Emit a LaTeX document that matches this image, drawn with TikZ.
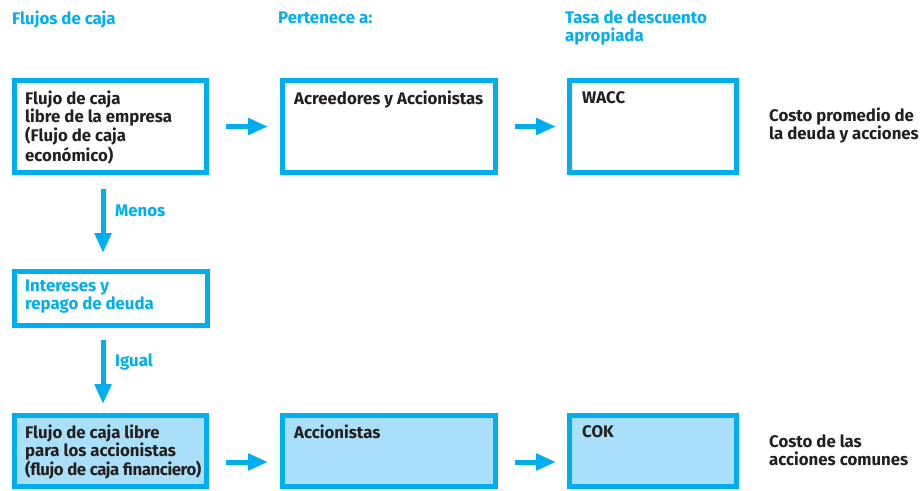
\documentclass[tikz,border=0pt]{standalone}
\usepackage{fontspec}
\setmainfont{Fira Sans}
\usetikzlibrary{arrows.meta}
\definecolor{cyanline}{HTML}{00AEEF}
\definecolor{lightfill}{HTML}{A9DFF8}
\definecolor{ink}{HTML}{231F20}
% text nodes are placed by their top-left corner; a fixed strut makes the
% first baseline sit exactly 12pt below that corner
\newcommand{\firstline}{\rule{0pt}{12pt}}
\newcommand{\tightline}[1]{{\addfontfeature{LetterSpace=-2.5}#1}}
\tikzset{
  box/.style={draw=cyanline, line width=5pt, rectangle, inner sep=0pt, anchor=north west},
  filledbox/.style={box, fill=lightfill},
  boxtext/.style={anchor=north west, inner sep=0pt, align=left, text=ink,
    font=\bfseries\fontsize{16.8}{18}\selectfont},
  head/.style={boxtext, text=cyanline},
  flow/.style={draw=cyanline, line width=5pt, -{Triangle[length=20pt,width=16pt]}},
}
\begin{document}
\begin{tikzpicture}[x=1pt,y=-1pt]
\useasboundingbox (0,0) rectangle (920,490);

% column headers (first baseline at y = given + 12)
\node[head] (h1) at (12,11) {\firstline Flujos de caja};
\node[head] (h2) at (278,11) {\firstline Pertenece a:};
\node[head] (h3) at (565,11) {\firstline Tasa de descuento\\apropiada};

% top row (boxes placed by their outer top-left corner)
\node[box, minimum width=192pt, minimum height=92pt] (b1) at (12,78) {};
\node[box, minimum width=213pt, minimum height=92pt] (b2) at (280,78) {};
\node[box, minimum width=167pt, minimum height=92pt] (b3) at (567,78) {};
\node[boxtext] (t1) at (25,91) {\firstline Flujo de caja\\libre de la empresa\\(Flujo de caja\\económico)};
\node[boxtext] (t2) at (294,91) {\firstline Acreedores y Accionistas};
\node[boxtext] (t3) at (582,91) {\firstline WACC};
\node[boxtext] (s1) at (769,108) {\firstline Costo promedio de\\la deuda y acciones};

% middle box
\node[box, minimum width=193pt, minimum height=54pt] (b4) at (12,269) {};
\node[head] (t4) at (25,279) {\firstline Intereses y\\repago de deuda};

% bottom row
\node[filledbox, minimum width=192pt, minimum height=71pt] (b5) at (12,413) {};
\node[filledbox, minimum width=213pt, minimum height=71pt] (b6) at (280,413) {};
\node[filledbox, minimum width=167pt, minimum height=71pt] (b7) at (567,413) {};
\node[boxtext] (t5) at (25,425) {\firstline Flujo de caja libre\\para los accionistas\\\tightline{(flujo de caja financiero)}};
\node[boxtext] (t6) at (294,425) {\firstline Accionistas};
\node[boxtext] (t7) at (582,425) {\firstline COK};
\node[boxtext] (s2) at (769,435) {\firstline Costo de las\\acciones comunes};

% horizontal connectors
\draw[flow, shorten <=17pt, shorten >=12pt] (b1.east) -- (b2.west);
\draw[flow, shorten <=17pt, shorten >=11pt] (b2.east) -- (b3.west);
\draw[flow, shorten <=17pt, shorten >=12pt] ([yshift=-11pt]b5.east) -- ([yshift=-11pt]b6.west);
\draw[flow, shorten <=17pt, shorten >=11pt] ([yshift=-11pt]b6.east) -- ([yshift=-11pt]b7.west);

% vertical connectors with their labels
\draw[flow, shorten <=14pt, shorten >=16pt] ([xshift=-7.5pt]b1.south) -- ([xshift=-7.5pt]b1.south |- b4.north);
\node[head] (menos) at (115,204) {\firstline Menos};
\draw[flow, shorten <=12pt, shorten >=9pt] ([xshift=-8pt]b4.south) -- ([xshift=-8pt]b4.south |- b5.north);
\node[head] (igual) at (115,354) {\firstline Igual};
\end{tikzpicture}
\end{document}
